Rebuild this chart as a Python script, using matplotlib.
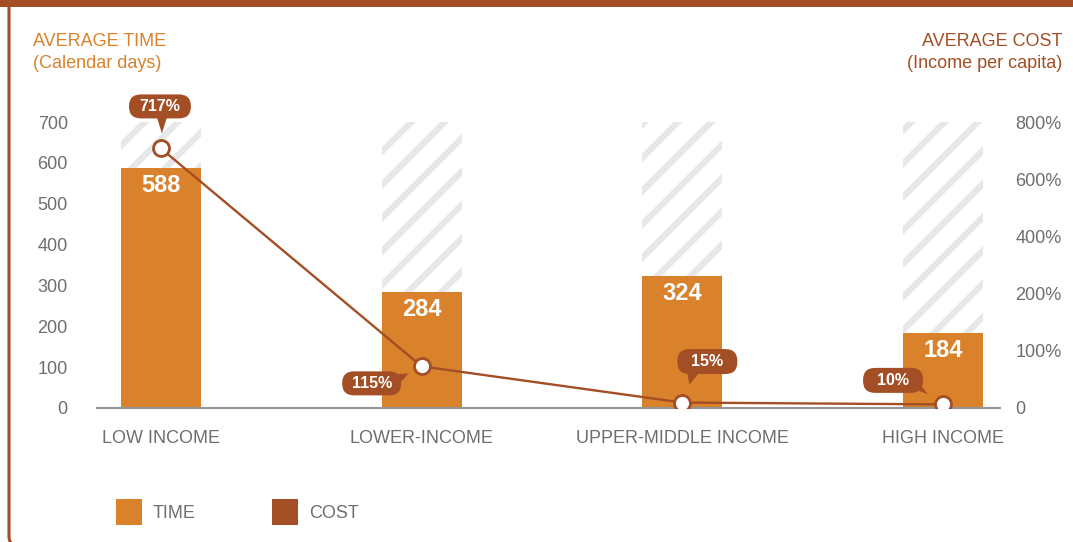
import numpy as np
import matplotlib.pyplot as plt
import matplotlib.transforms as mtransforms
from matplotlib.patches import FancyBboxPatch, Polygon, Rectangle

# income groups, time in calendar days, cost as % of income per capita
groups = ['LOW INCOME', 'LOWER-INCOME', 'UPPER-MIDDLE INCOME', 'HIGH INCOME']
time_days = [588, 284, 324, 184]
cost_pct = [717, 115, 15, 10]
cost_labels = ['717%', '115%', '15%', '10%']

time_ticks = [0, 100, 200, 300, 400, 500, 600, 700]
cost_tick_labels = ['0', '100%', '200%', '400%', '600%', '800%']

ORANGE = '#d9822b'
BROWN = '#a34e24'
GRAY = '#6d6e71'
STRIPE = '#e6e7e8'

plt.rcParams['font.family'] = ['Liberation Sans', 'DejaVu Sans']
plt.rcParams['hatch.color'] = STRIPE
plt.rcParams['hatch.linewidth'] = 4.5

fig = plt.figure(figsize=(10.73, 5.42), dpi=100)
ax = fig.add_axes([97 / 1073, 1 - 408 / 542, 903 / 1073, 286 / 542])
ax2 = ax.twinx()

x = np.arange(len(groups))
bw = 80 / 261

# striped background to the top of the scale, then the real bars
ax.bar(x, [time_ticks[-1]] * len(x), width=bw, color='white', edgecolor=STRIPE,
       linewidth=0, hatch='/', zorder=1)
ax.bar(x, time_days, width=bw, color=ORANGE, linewidth=0, zorder=2)
for xi, v in zip(x, time_days):
    ax.text(xi, v - 44, str(v), ha='center', va='center', color='white',
            fontsize=17, fontweight='bold', zorder=3)

ax.set_xlim(-64 / 261, 3 + 57 / 261)
ax.set_ylim(0, 700)
ax.set_yticks(time_ticks)
ax.set_xticks(x)
ax.set_xticklabels(groups)
ax.tick_params(axis='y', length=0, pad=21, labelsize=13, labelcolor=GRAY)
ax.tick_params(axis='x', length=0, pad=16, labelsize=13, labelcolor=GRAY)
for s in ['top', 'left', 'right']:
    ax.spines[s].set_visible(False)
ax.spines['bottom'].set_color('#939598')
ax.spines['bottom'].set_linewidth(1.5)

cost_top = 790
ax2.set_ylim(0, cost_top)
ax2.set_yticks(np.linspace(0, cost_top, len(cost_tick_labels)))
ax2.set_yticklabels(cost_tick_labels)
ax2.tick_params(axis='y', length=0, pad=11, labelsize=13, labelcolor=GRAY)
for s in ['top', 'left', 'right', 'bottom']:
    ax2.spines[s].set_visible(False)

ax2.plot(x, cost_pct, color=BROWN, lw=1.7, zorder=3)
ax2.plot(x, cost_pct, 'o', ms=11.5, mfc='white', mec=BROWN, mew=2, zorder=4)

# callout boxes, pixel offsets from each point: box centre, size, pointer
callouts = [
    ((-1, 42), 62, 24, [(-4, 31), (6, 31), (1, 15)]),
    ((-50, -17), 59, 24, [(-28, -8), (-23, -18), (-13, -7)]),
    ((25, 41), 60, 25, [(5, 30), (17, 30), (7, 18)]),
    ((-50, 24), 60, 25, [(-27, 25), (-23, 13), (-15, 10)]),
]
px = mtransforms.Affine2D().scale(1 / fig.dpi) + fig.dpi_scale_trans
for xi, v, lab, (c, w, h, tri) in zip(x, cost_pct, cost_labels, callouts):
    tr = px + mtransforms.ScaledTranslation(xi, v, ax2.transData)
    box = FancyBboxPatch((c[0] - w / 2, c[1] - h / 2), w, h,
                         boxstyle='round,pad=0,rounding_size=12',
                         fc=BROWN, ec='none', transform=tr, zorder=5,
                         clip_on=False)
    ax2.add_patch(box)
    ax2.add_patch(Polygon(tri, closed=True, fc=BROWN, ec='none', transform=tr,
                          zorder=5, clip_on=False))
    ax2.text(c[0], c[1], lab, transform=tr, ha='center', va='center',
             color='white', fontsize=11.5, fontweight='bold', zorder=6)

# axis titles
fig.text(33 / 1073, 1 - 41 / 542, 'AVERAGE TIME', color=ORANGE, fontsize=13,
         ha='left', va='center')
fig.text(33 / 1073, 1 - 63 / 542, '(Calendar days)', color=ORANGE, fontsize=13,
         ha='left', va='center')
fig.text(1062 / 1073, 1 - 41 / 542, 'AVERAGE COST', color=BROWN, fontsize=13,
         ha='right', va='center')
fig.text(1062 / 1073, 1 - 63 / 542, '(Income per capita)', color=BROWN,
         fontsize=13, ha='right', va='center')

# legend
for lx, col, name in [(116, ORANGE, 'TIME'), (272, BROWN, 'COST')]:
    fig.patches.append(Rectangle((lx / 1073, 1 - 525 / 542), 26 / 1073, 26 / 542,
                                 transform=fig.transFigure, fc=col, ec='none'))
    fig.text((lx + 37) / 1073, 1 - 513 / 542, name, color=GRAY, fontsize=13,
             ha='left', va='center')

# frame: left rule with a rounded foot, top band over it
fig.patches.append(FancyBboxPatch((9 / 1073, -6 / 542), 1.2, 1.2,
                                  boxstyle='round,pad=0,rounding_size=0.02',
                                  transform=fig.transFigure, fc='none',
                                  ec=BROWN, lw=2.2))
fig.patches.append(Rectangle((0, 1 - 7 / 542), 1, 7 / 542,
                             transform=fig.transFigure, fc=BROWN, ec='none'))

fig.savefig('out.png', dpi=100)
